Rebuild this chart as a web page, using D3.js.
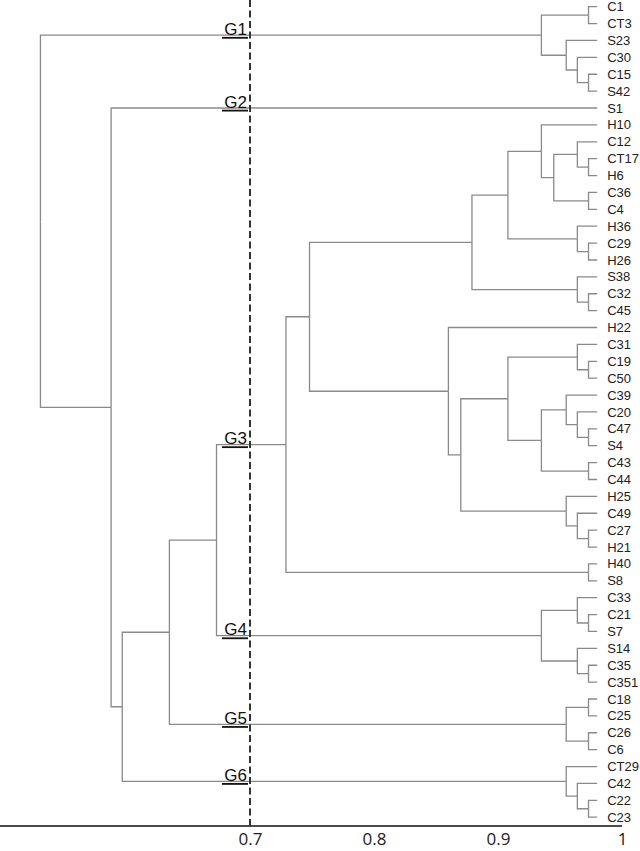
<!DOCTYPE html>
<meta charset="utf-8">
<style>
  body { margin: 0; background: #fff; }
</style>
<body>
  <div id="content">
    <svg width="640" height="851"></svg>
  </div>

  <script src="https://cdnjs.cloudflare.com/ajax/libs/d3/7.8.5/d3.min.js"></script>

  <script>

    // leaf order, top to bottom
    var leaves = ["C1", "CT3", "S23", "C30", "C15", "S42", "S1", "H10", "C12", "CT17", "H6", "C36", "C4",
      "H36", "C29", "H26", "S38", "C32", "C45", "H22", "C31", "C19", "C50", "C39", "C20", "C47", "S4",
      "C43", "C44", "H25", "C49", "C27", "H21", "H40", "S8", "C33", "C21", "S7", "S14", "C35", "C351",
      "C18", "C25", "C26", "C6", "CT29", "C42", "C22", "C23"]

    // merges: [left, right, similarity]; strings are leaves, numbers point to earlier merges
    var merges = [
      ["C1", "CT3", 0.973],   // 0
      ["C15", "S42", 0.973],  // 1
      ["C30", 1, 0.964],      // 2
      ["S23", 2, 0.955],      // 3
      [0, 3, 0.935],          // 4
      ["CT17", "H6", 0.973],  // 5
      ["C12", 5, 0.964],      // 6
      ["C36", "C4", 0.973],   // 7
      [6, 7, 0.945],          // 8
      ["H10", 8, 0.935],      // 9
      ["C29", "H26", 0.973],  // 10
      ["H36", 10, 0.964],     // 11
      [9, 11, 0.908],         // 12
      ["C32", "C45", 0.973],  // 13
      ["S38", 13, 0.964],     // 14
      [12, 14, 0.879],        // 15
      ["C19", "C50", 0.973],  // 16
      ["C31", 16, 0.964],     // 17
      ["C47", "S4", 0.973],   // 18
      ["C20", 18, 0.964],     // 19
      ["C39", 19, 0.955],     // 20
      ["C43", "C44", 0.973],  // 21
      [20, 21, 0.935],        // 22
      [17, 22, 0.908],        // 23
      ["C27", "H21", 0.973],  // 24
      ["C49", 24, 0.964],     // 25
      ["H25", 25, 0.955],     // 26
      [23, 26, 0.870],        // 27
      ["H22", 27, 0.860],     // 28
      [15, 28, 0.748],        // 29
      ["H40", "S8", 0.973],   // 30
      [29, 30, 0.729],        // 31
      ["C21", "S7", 0.973],   // 32
      ["C33", 32, 0.964],     // 33
      ["C35", "C351", 0.973], // 34
      ["S14", 34, 0.964],     // 35
      [33, 35, 0.935],        // 36
      [31, 36, 0.673],        // 37
      ["C18", "C25", 0.973],  // 38
      ["C26", "C6", 0.973],   // 39
      [38, 39, 0.955],        // 40
      [37, 40, 0.635],        // 41
      ["C22", "C23", 0.973],  // 42
      ["C42", 42, 0.964],     // 43
      ["CT29", 43, 0.955],    // 44
      [41, 44, 0.597],        // 45
      ["S1", 45, 0.588],      // 46
      [4, 46, 0.531]          // 47
    ]

    var leafValue = 0.98
    var cutValue = 0.7
    var tickValues = [0.7, 0.8, 0.9, 1]
    var groupNames = ["G1", "G2", "G3", "G4", "G5", "G6"]


    var svg = d3.select("svg")

    var x = d3.scaleLinear().domain([0.5, 1]).range([2, 622])
    var y = d3.scalePoint().domain(leaves).range([6.7, 817.2])

    var axisY = 826

    // build nested tree from merge table
    var built = merges.map(function () { return null })
    function ref(r) {
      if (typeof r === "string") return { name: r, value: leafValue }
      return built[r]
    }
    merges.forEach(function (m, i) {
      built[i] = { value: m[2], children: [ref(m[0]), ref(m[1])] }
    })

    var root = d3.hierarchy(built[built.length - 1])

    // positions: x by similarity, y by leaf order / midpoint of children
    root.eachAfter(function (d) {
      d.px = x(d.data.value)
      if (d.children) {
        d.py = (d.children[0].py + d.children[1].py) / 2
      } else {
        d.py = y(d.data.name)
      }
    })

    var links = root.links()

    svg.append("g")
      .selectAll("path")
      .data(links)
      .join("path")
      .attr("d", function (l) {
        return "M" + l.source.px + "," + l.source.py + "V" + l.target.py + "H" + l.target.px
      })
      .attr("fill", "none")
      .attr("stroke", "#8a8a8a")
      .attr("stroke-width", 1.3)

    // leaf labels
    svg.append("g")
      .selectAll("text")
      .data(root.leaves())
      .join("text")
      .attr("x", function (d) { return d.px + 10 })
      .attr("y", function (d) { return d.py })
      .attr("dy", "0.35em")
      .text(function (d) { return d.data.name })
      .style("font-family", "Liberation Sans, Arial, sans-serif")
      .style("font-size", "13px")
      .attr("fill", "#222")

    // axis
    var axis = d3.axisBottom(x)
      .tickValues(tickValues)
      .tickSize(0)
      .tickSizeOuter(0)
      .tickPadding(7)
      .tickFormat(function (d) { return d === 1 ? "1" : d3.format(".1f")(d) })

    var ax = svg.append("g")
      .attr("transform", "translate(0," + axisY + ")")
      .call(axis)

    ax.select(".domain")
      .attr("d", "M0,0H" + x(1))
      .attr("stroke", "#111")
      .attr("stroke-width", 1.5)

    ax.selectAll("text")
      .style("font-family", "Open Sans, sans-serif")
      .style("font-size", "17px")
      .attr("fill", "#222")

    // cut line
    svg.append("line")
      .attr("x1", x(cutValue))
      .attr("x2", x(cutValue))
      .attr("y1", 0)
      .attr("y2", axisY)
      .attr("stroke", "#333")
      .attr("stroke-width", 2)
      .style("stroke-dasharray", "7,3.5")

    // groups: branches crossing the cut
    var crossing = links.filter(function (l) {
      return l.source.data.value < cutValue && l.target.data.value > cutValue
    }).sort(function (a, b) { return a.target.py - b.target.py })

    var groups = svg.append("g")
      .selectAll("g")
      .data(crossing)
      .join("g")

    groups.append("text")
      .attr("x", x(cutValue) - 3)
      .attr("y", function (l) { return l.target.py - 0.5 })
      .attr("text-anchor", "end")
      .text(function (l, i) { return groupNames[i] })
      .style("font-family", "Liberation Sans, Arial, sans-serif")
      .style("font-size", "17px")
      .attr("fill", "#111")

    groups.append("line")
      .attr("x1", x(cutValue) - 28)
      .attr("x2", x(cutValue) - 2)
      .attr("y1", function (l) { return l.target.py + 2.6 })
      .attr("y2", function (l) { return l.target.py + 2.6 })
      .attr("stroke", "#111")
      .attr("stroke-width", 1.8)

  </script>
</body>
